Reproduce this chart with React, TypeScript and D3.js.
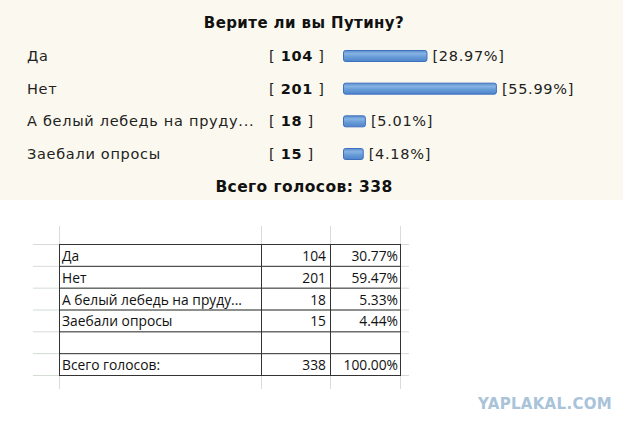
import React from "react";
import * as d3 from "d3";

const title = "Верите ли вы Путину?";
const options = ["Да", "Нет", "А белый лебедь на пруду...", "Заебали опросы"];
const votes = [104, 201, 18, 15];
const pollPercents = [28.97, 55.99, 5.01, 4.18];
const totalLabel = "Всего голосов";
const total = 338;
const tablePercents = ["30.77%", "59.47%", "5.33%", "4.44%"];
const tableTotalPercent = "100.00%";
const watermark = "YAPLAKAL.COM";

const W = 640;
const H = 434;

export default function App() {
  const rowY = d3.scalePoint<number>().domain(d3.range(options.length)).range([56, 154]);
  const barW = d3.scaleLinear().domain([0, 100]).range([10, 267]);

  const tRows = d3.range(7);
  const tY = d3.scaleLinear().domain([0, 6]).range([244, 375]);
  const cols = [59, 261, 330, 400];
  const tableRows = [
    ...options.map((o, i) => ({ label: o, n: String(votes[i]), p: tablePercents[i] })),
    { label: "", n: "", p: "" },
    { label: totalLabel + ":", n: String(total), p: tableTotalPercent },
  ];

  const pollFont = "'DejaVu Sans', Verdana, sans-serif";
  const tableFont = "'Open Sans', 'Noto Sans', sans-serif";
  const ls = 0.7;

  return (
    <svg width={W} height={H} style={{ position: "absolute", left: 0, top: 0 }}>
      <defs>
        <linearGradient id="barg" x1="0" y1="0" x2="0" y2="1">
          <stop offset="0" stopColor="#5b8fd0" />
          <stop offset="0.3" stopColor="#86b3e3" />
          <stop offset="0.55" stopColor="#6a9ed9" />
          <stop offset="1" stopColor="#4d83cb" />
        </linearGradient>
      </defs>
      <rect x={0} y={0} width={W} height={H} fill="#ffffff" />
      <rect x={0} y={0} width={623} height={200} fill="#fbf9ef" />
      <text x={304} y={28} textAnchor="middle" fontFamily={pollFont} fontWeight="bold" fontSize={15} letterSpacing={0.4} fill="#111">
        {title}
      </text>
      {options.map((o, i) => {
        const y = rowY(i)!;
        const w = barW(pollPercents[i]);
        return (
          <g key={i} fontFamily={pollFont} fontSize={14.5} letterSpacing={ls} fill="#222">
            <text x={27} y={y + 5}>{o}</text>
            <text x={269} y={y + 5}>
              {"[ "}
              <tspan fontWeight="bold" fill="#111">{votes[i]}</tspan>
              {" ]"}
            </text>
            <rect x={343.5} y={y - 5.5} width={w - 1} height={11} rx={2} fill="url(#barg)" stroke="#3f6fbf" strokeWidth={1} />
            <text x={343 + w + 5} y={y + 5}>{`[${pollPercents[i].toFixed(2)}%]`}</text>
          </g>
        );
      })}
      <text x={304} y={192} textAnchor="middle" fontFamily={pollFont} fontWeight="bold" fontSize={15.5} letterSpacing={0.4} fill="#111">
        {`${totalLabel}: ${total}`}
      </text>

      {tRows.map((r) => (
        <line key={"h" + r} x1={33} x2={409} y1={tY(r) + 0.5} y2={tY(r) + 0.5} stroke="#d4dcd4" />
      ))}
      {cols.map((c, k) => (
        <line key={"v" + k} x1={c + 0.5} x2={c + 0.5} y1={226} y2={389} stroke="#d8ddd8" />
      ))}
      {tRows.map((r) => (
        <line key={"bh" + r} x1={cols[0]} x2={cols[3] + 1} y1={tY(r) + 0.5} y2={tY(r) + 0.5} stroke="#333" strokeWidth={1} />
      ))}
      {cols.map((c, k) => (
        <line key={"bv" + k} x1={c + 0.5} x2={c + 0.5} y1={tY(0)} y2={tY(6) + 1} stroke="#333" strokeWidth={1} />
      ))}
      {tableRows.map((row, k) => {
        const yb = tY(k + 1) - 5;
        return (
          <g key={"t" + k} fontFamily={tableFont} fontSize={13.8} fill="#111">
            <text x={62} y={yb}>{row.label}</text>
            <text x={326} y={yb} textAnchor="end">{row.n}</text>
            <text x={398} y={yb} textAnchor="end">{row.p}</text>
          </g>
        );
      })}
      <text x={545} y={409} textAnchor="middle" fontFamily="'DejaVu Sans', sans-serif" fontWeight="bold" fontSize={15} letterSpacing={0.3} fill="#a9c3d9">
        {watermark}
      </text>
    </svg>
  );
}
